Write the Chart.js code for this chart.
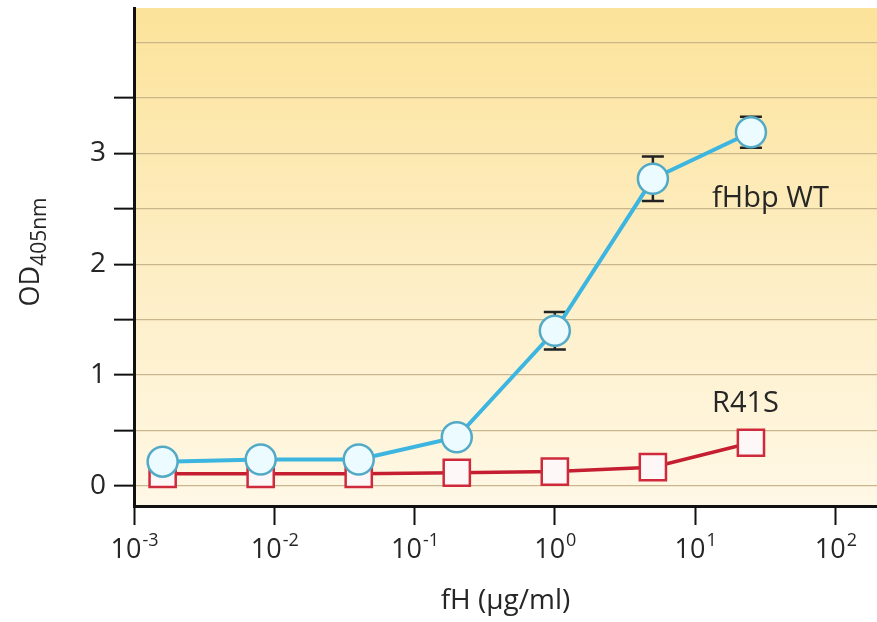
<!DOCTYPE html>
<html>
<head>
<meta charset="utf-8">
<script src="https://cdn.jsdelivr.net/npm/chart.js@4.4.1/dist/chart.umd.min.js"></script>
<style>
  html, body { margin: 0; padding: 0; background: #fff; }
  #wrap { width: 877px; height: 622px; }
</style>
</head>
<body>
<div id="wrap"><canvas id="myChart" width="877" height="622"></canvas></div>
<script>
// fH concentrations (ug/ml), 5-fold dilutions
const concentrations = [0.0016, 0.008, 0.04, 0.2, 1, 5, 25];
const wtValues = [0.22, 0.24, 0.24, 0.44, 1.40, 2.77, 3.19];
const wtErrors = [0, 0, 0, 0, 0.17, 0.20, 0.14];
const r41sValues = [0.11, 0.11, 0.11, 0.12, 0.13, 0.17, 0.39];

const xTickExponents = [-3, -2, -1, 0, 1, 2];
const yTickValues = [0, 0.5, 1, 1.5, 2, 2.5, 3, 3.5, 4];
const yLabelValues = [0, 1, 2, 3];

const FONT = '"Open Sans", "Noto Sans", sans-serif';
const TEXT = '#262626';

// background, error bars, custom labels
const decor = {
  id: 'decor',
  beforeDraw(chart) {
    const { ctx, chartArea: a } = chart;
    const g = ctx.createLinearGradient(0, a.top, 0, a.bottom);
    g.addColorStop(0, '#fce39a');
    g.addColorStop(0.5, '#fdedc2');
    g.addColorStop(1, '#fff8e6');
    ctx.save();
    ctx.fillStyle = g;
    ctx.fillRect(a.left, a.top, a.right - a.left, a.bottom - a.top);
    ctx.restore();
  },
  beforeDatasetsDraw(chart) {
    const { ctx, scales: { x, y } } = chart;
    ctx.save();
    ctx.strokeStyle = '#222';
    ctx.lineWidth = 2.5;
    concentrations.forEach((c, i) => {
      if (!wtErrors[i]) return;
      const px = x.getPixelForValue(c);
      const top = y.getPixelForValue(wtValues[i] + wtErrors[i]);
      const bot = y.getPixelForValue(wtValues[i] - wtErrors[i]);
      ctx.beginPath();
      ctx.moveTo(px, top); ctx.lineTo(px, bot);
      ctx.moveTo(px - 11, top); ctx.lineTo(px + 11, top);
      ctx.moveTo(px - 11, bot); ctx.lineTo(px + 11, bot);
      ctx.stroke();
    });
    ctx.restore();
  },
  afterDraw(chart) {
    const { ctx, chartArea: a, scales: { x, y } } = chart;
    ctx.save();
    ctx.fillStyle = TEXT;
    ctx.textBaseline = 'alphabetic';
    ctx.textAlign = 'left';

    // x tick labels 10^n
    xTickExponents.forEach(e => {
      const px = x.getPixelForValue(Math.pow(10, e));
      ctx.font = '27px ' + FONT;
      const wb = ctx.measureText('10').width;
      ctx.font = '18px ' + FONT;
      const sup = String(e);
      const ws = ctx.measureText(sup).width;
      const start = px - (wb + ws) / 2;
      ctx.font = '27px ' + FONT;
      ctx.fillText('10', start, 558);
      ctx.font = '18px ' + FONT;
      ctx.fillText(sup, start + wb + 1, 546);
    });

    // x title
    ctx.font = '28px ' + FONT;
    ctx.textAlign = 'center';
    ctx.fillText('fH (\u00b5g/ml)', (a.left + a.right) / 2, 609);

    // y title with subscript
    ctx.save();
    ctx.translate(39, 252);
    ctx.rotate(-Math.PI / 2);
    ctx.textAlign = 'left';
    ctx.font = '27px ' + FONT;
    const wMain = ctx.measureText('OD').width;
    ctx.font = '21px ' + FONT;
    const wSub = ctx.measureText('405nm').width;
    const s = -(wMain + wSub) / 2;
    ctx.font = '27px ' + FONT;
    ctx.fillText('OD', s, 0);
    ctx.font = '21px ' + FONT;
    ctx.fillText('405nm', s + wMain, 7);
    ctx.restore();

    // series labels
    ctx.font = '29px ' + FONT;
    ctx.textAlign = 'left';
    ctx.fillText('fHbp WT', x.getPixelForValue(13.2), y.getPixelForValue(2.52));
    ctx.fillText('R41S', x.getPixelForValue(13.2), y.getPixelForValue(0.665));
    ctx.restore();
  }
};

const noPad = s => { s.paddingTop = 0; s.paddingBottom = 0; s.paddingLeft = 0; s.paddingRight = 0; };

const data = {
  datasets: [
    {
      label: 'fHbp WT',
      data: concentrations.map((c, i) => ({ x: c, y: wtValues[i] })),
      borderColor: '#3cb6e0',
      borderWidth: 4,
      pointStyle: 'circle',
      pointRadius: 15,
      pointBackgroundColor: '#ecfbff',
      pointBorderColor: '#52aac6',
      pointBorderWidth: 2.5,
      tension: 0,
    },
    {
      label: 'R41S',
      data: concentrations.map((c, i) => ({ x: c, y: r41sValues[i] })),
      borderColor: '#c41e30',
      borderWidth: 3.5,
      pointStyle: 'rect',
      pointRadius: 18.5,
      pointBackgroundColor: '#fdf7f7',
      pointBorderColor: '#cf2a3c',
      pointBorderWidth: 2.5,
      tension: 0,
    }
  ]
};

const config = {
  type: 'line',
  data: data,
  options: {
    responsive: false,
    animation: false,
    layout: { autoPadding: false, padding: { top: 8, right: 0, bottom: 0, left: 0 } },
    plugins: {
      legend: { display: false },
      tooltip: { enabled: false },
    },
    scales: {
      x: {
        type: 'logarithmic',
        min: 0.001,
        max: 198,
        afterFit: s => { s.height = 116; noPad(s); },
        afterBuildTicks: s => { s.ticks = xTickExponents.map(e => ({ value: Math.pow(10, e) })); },
        ticks: { display: false },
        grid: {
          drawOnChartArea: false,
          drawTicks: true,
          tickLength: 19,
          tickColor: '#111',
          tickWidth: 2,
        },
        border: { color: '#111', width: 3 },
      },
      y: {
        type: 'linear',
        min: -0.18,
        max: 4.31,
        afterFit: s => { s.width = 134; noPad(s); },
        afterBuildTicks: s => { s.ticks = yTickValues.map(v => ({ value: v })); },
        ticks: {
          autoSkip: false,
          padding: 8,
          color: TEXT,
          font: { family: FONT, size: 28 },
          callback: v => (yLabelValues.includes(v) ? String(v) : ''),
        },
        grid: {
          color: '#c9b68c',
          lineWidth: 1.3,
          drawTicks: true,
          tickLength: 20,
          tickWidth: 2,
          tickColor: ctx => (ctx.tick && ctx.tick.value > 3.5 ? 'rgba(0,0,0,0)' : '#111'),
        },
        border: { color: '#111', width: 3 },
      }
    }
  },
  plugins: [decor]
};

const myChart = new Chart(document.getElementById('myChart'), config);
</script>
</body>
</html>
